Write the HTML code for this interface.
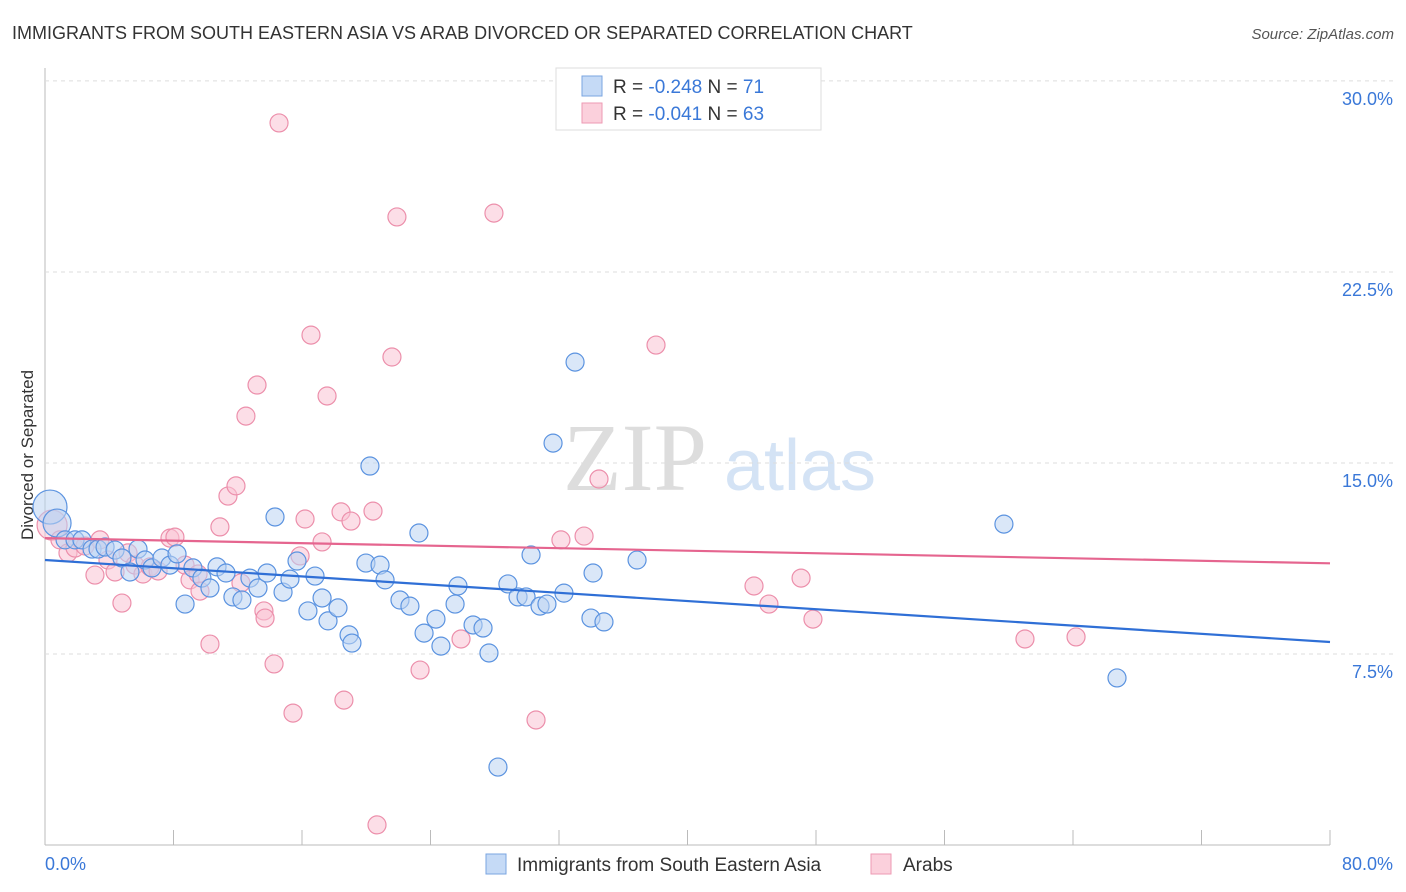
<!DOCTYPE html>
<html><head><meta charset="utf-8"><style>
body{margin:0;background:#fff;font-family:"Liberation Sans",sans-serif}
svg{display:block}
</style></head><body>
<svg id="c" width="1406" height="892">
<text x="12" y="39" font-size="18" fill="#333">IMMIGRANTS FROM SOUTH EASTERN ASIA VS ARAB DIVORCED OR SEPARATED CORRELATION CHART</text>
<text x="1394" y="39" font-size="15" fill="#555" text-anchor="end" font-style="italic">Source: ZipAtlas.com</text>
<text x="33" y="455" font-size="17" fill="#333" text-anchor="middle" transform="rotate(-90 33 455)">Divorced or Separated</text>
<g><text x="635" y="490" font-size="96" fill="#ddd" text-anchor="middle" font-family="Liberation Serif,serif">ZIP</text><text x="800" y="490" font-size="72" fill="#d4e3f5" text-anchor="middle">atlas</text></g>
<g id="grid"></g><g id="pts"></g><g id="lines"></g>
<g>
<rect x="556" y="68" width="265" height="62" fill="#fff" stroke="#ddd"/>
<rect x="582" y="76" width="20" height="20" fill="#c5daf6" stroke="#7aa5e0"/>
<rect x="582" y="103" width="20" height="20" fill="#fbd0dc" stroke="#ee9ab3"/>
<text x="613" y="93" font-size="19" fill="#333">R = <tspan fill="#3a78d8">-0.248</tspan>   N = <tspan fill="#3a78d8"> 71</tspan></text>
<text x="613" y="120" font-size="19" fill="#333">R = <tspan fill="#3a78d8">-0.041</tspan>   N = <tspan fill="#3a78d8">63</tspan></text>
</g>
<g>
<rect x="486" y="854" width="20" height="20" fill="#c5daf6" stroke="#7aa5e0"/>
<text x="517" y="871" font-size="19" fill="#333">Immigrants from South Eastern Asia</text>
<rect x="871" y="854" width="20" height="20" fill="#fbd0dc" stroke="#ee9ab3"/>
<text x="903" y="871" font-size="19" fill="#333">Arabs</text>
</g>
<text x="45" y="870" font-size="18" fill="#3a78d8">0.0%</text>
<text x="1393" y="870" font-size="18" fill="#3a78d8" text-anchor="end">80.0%</text>
</svg>
<script>
const yTicks=[7.5,15,22.5,30];
const yTickLabels=["7.5%","15.0%","22.5%","30.0%"];
const xTicks=[0,8,16,24,32,40,48,56,64,72,80];
const bluePx=[[50,507],[57,523],[65,540],[75,540],[82,540],[92,549],[98,549],[105,547],[115,550],[122,558],[130,572],[138,549],[145,560],[152,568],[162,558],[170,565],[177,554],[185,604],[193,568],[202,578],[210,588],[217,567],[226,573],[233,597],[242,600],[250,578],[258,588],[267,573],[275,517],[283,592],[290,579],[297,561],[308,611],[315,576],[322,598],[328,621],[338,608],[349,635],[352,643],[366,563],[370,466],[380,565],[385,580],[400,600],[410,606],[419,533],[424,633],[436,619],[441,646],[455,604],[458,586],[473,625],[483,628],[489,653],[498,767],[508,584],[518,597],[526,597],[531,555],[540,606],[547,604],[553,443],[564,593],[575,362],[591,618],[593,573],[604,622],[637,560],[1004,524],[1117,678]];
const pinkPx=[[52,525],[60,540],[68,553],[75,548],[85,546],[95,575],[100,540],[108,560],[115,572],[122,603],[128,553],[135,565],[143,574],[150,567],[158,571],[170,538],[175,537],[185,565],[190,580],[198,574],[200,591],[210,644],[220,527],[228,496],[236,486],[241,583],[246,416],[257,385],[264,611],[265,618],[274,664],[279,123],[293,713],[300,556],[305,519],[311,335],[322,542],[327,396],[341,512],[344,700],[351,521],[373,511],[377,825],[392,357],[397,217],[420,670],[461,639],[494,213],[536,720],[561,540],[584,536],[599,479],[656,345],[754,586],[769,604],[801,578],[813,619],[1025,639],[1076,637]];
// data values (x %, y %)
const blueX=bluePx.map(p=>+((p[0]-45)/1285*80).toFixed(2));
const blueY=bluePx.map(p=>+(7.5+(654-p[1])/25.47).toFixed(2));
const pinkX=pinkPx.map(p=>+((p[0]-45)/1285*80).toFixed(2));
const pinkY=pinkPx.map(p=>+(7.5+(654-p[1])/25.47).toFixed(2));
const blueTrend=[11.19,7.97];
const pinkTrend=[12.05,11.06];
const X=v=>45+v/80*1285, Y=v=>654-(v-7.5)*25.47;
const NS="http://www.w3.org/2000/svg";
function mk(t,a,p){const e=document.createElementNS(NS,t);for(const k in a)e.setAttribute(k,a[k]);p.appendChild(e);return e;}
const g=document.getElementById('grid');
let ax=mk('line',{x1:45,y1:68,x2:45,y2:845,stroke:'#bbb'},g);


let bx=mk('line',{x1:45,y1:845,x2:1330,y2:845,stroke:'#bbb'},g);


yTicks.forEach((v,i)=>{
 const l=mk('line',{x1:45,x2:1393,y1:Y(v),y2:Y(v),stroke:'#ddd','stroke-dasharray':'4,4'},g);
 
 
 const t=mk('text',{x:1393,y:Y(v)+24,'font-size':18,fill:'#3a78d8','text-anchor':'end'},g);
 t.textContent=yTickLabels[i];
 
 
});
xTicks.forEach(v=>{
 const l=mk('line',{x1:X(v),x2:X(v),y1:830,y2:845,stroke:'#bbb'},g);
 
 
});
const P=document.getElementById('pts');
function dots(xs,ys,fill,stroke,name){xs.forEach((x,i)=>{
 const r=(i<2&&name==='blue-point')?(i==0?17:14):(i==0&&name==='pink-point'?15:9);
 const c=mk('circle',{cx:X(x),cy:Y(ys[i]),r:r,fill:fill,'fill-opacity':0.55,stroke:stroke,'stroke-width':1.2},P);
 
 
});}
dots(pinkX,pinkY,'#f9c3d3','#ec8fab','pink-point');
dots(blueX,blueY,'#bcd4f3','#5b93e0','blue-point');
const L=document.getElementById('lines');
let b=mk('line',{x1:X(0),y1:Y(blueTrend[0]),x2:X(80),y2:Y(blueTrend[1]),stroke:'#2f6fd6','stroke-width':2.2},L);


let p=mk('line',{x1:X(0),y1:Y(pinkTrend[0]),x2:X(80),y2:Y(pinkTrend[1]),stroke:'#e5658f','stroke-width':2.2},L);


</script>
</body></html>
